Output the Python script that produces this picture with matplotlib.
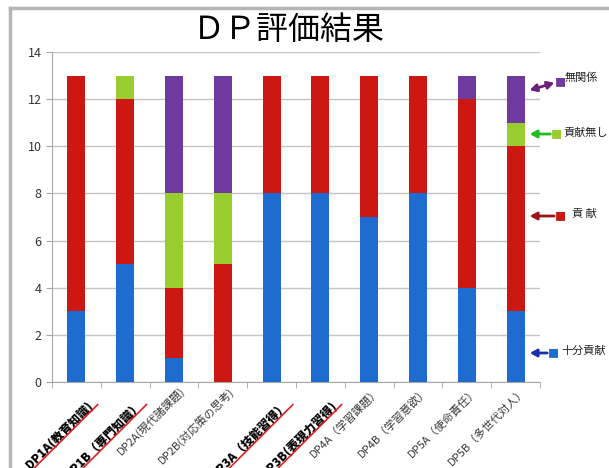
import matplotlib
matplotlib.use("Agg")
import matplotlib.pyplot as plt
import matplotlib.transforms as mtransforms
from matplotlib.lines import Line2D
from matplotlib.patches import FancyArrowPatch
import numpy as np

plt.rcParams['font.family'] = ['Noto Sans CJK JP', 'DejaVu Sans']

# データ（人数）
categories = ["DP1A(教育知識)", "DP1B（専門知識）", "DP2A(現代諸課題)", "DP2B(対応策の思考)",
              "DP3A（技能習得）", "DP3B(表現力習得)", "DP4A（学習課題）", "DP4B（学習意欲）",
              "DP5A（使命責任）", "DP5B（多世代対人）"]
highlight = [True, True, False, False, True, True, False, False, False, False]
jubun = [3, 5, 1, 0, 8, 8, 7, 8, 4, 3]       # 十分貢献
kouken = [10, 7, 3, 5, 5, 5, 6, 5, 8, 7]     # 貢献
nashi = [0, 1, 4, 3, 0, 0, 0, 0, 0, 1]       # 貢献無し
mukankei = [0, 0, 5, 5, 0, 0, 0, 0, 1, 2]    # 無関係
colors = ["#1e6cd0", "#cc1812", "#99cc2e", "#6e3aa0"]

W, H = 609, 468
fig = plt.figure(figsize=(W / 100, H / 100), dpi=100)
ax = fig.add_axes([52 / W, 1 - 382 / H, (540 - 52) / W, (382 - 52) / H])

x = np.arange(len(categories))
bottom = np.zeros(len(categories))
for vals, c in zip([jubun, kouken, nashi, mukankei], colors):
    ax.bar(x, vals, width=0.37, bottom=bottom, color=c, zorder=3)
    bottom += np.array(vals)

ax.set_xlim(-0.5, len(categories) - 0.5)
ax.set_ylim(0, 14)
ax.set_yticks(range(0, 15, 2))
ax.yaxis.grid(True, color="#c4c4c4", linewidth=1, zorder=0)
for s in ["top", "right"]:
    ax.spines[s].set_visible(False)
for s in ["left", "bottom"]:
    ax.spines[s].set_color("#a8a8a8")
ax.tick_params(axis="y", colors="#a8a8a8", labelcolor="#333333", labelsize=9, length=4)
ax.set_xticks(x)
ax.set_xticklabels([])
ax.tick_params(axis="x", length=0)
ax.set_xticks(np.arange(-0.5, len(categories), 1), minor=True)
ax.tick_params(axis="x", which="minor", length=4, color="#a8a8a8")

# 横軸ラベル（強調は太字＋赤下線）
xtrans = mtransforms.blended_transform_factory(ax.transData, ax.transAxes)
labels = []
for i, (name, hl) in enumerate(zip(categories, highlight)):
    if hl:
        tr = xtrans + mtransforms.ScaledTranslation(17 / 100, -24 / 100, fig.dpi_scale_trans)
        t = ax.text(i, 0, name, transform=tr, rotation=45, rotation_mode="anchor",
                    ha="right", va="baseline", fontsize=8.6, fontweight="heavy", color="black")
    else:
        tr = xtrans + mtransforms.ScaledTranslation(5 / 100, -3 / 100, fig.dpi_scale_trans)
        t = ax.text(i, 0, name, transform=tr, rotation=45, rotation_mode="anchor",
                    ha="right", va="top", fontsize=8, color="#383838")
    labels.append((t, hl))

fig.text(289 / W, 1 - 30 / H, "ＤＰ評価結果", fontsize=23, ha="center", va="center")

# 凡例代わりの矢印
def fp(px, py):
    return (px / W, 1 - py / H)

legend_items = [
    ("無関係", colors[3], "#6a1f7a", (527, 91), (557, 82), 565, 78, "<|-|>"),
    ("貢献無し", colors[2], "#22bb22", (527, 134), (553, 134), 563, 133, "-|>"),
    ("貢 献", colors[1], "#991414", (527, 216), (557, 216), 572, 214, "-|>"),
    ("十分貢献", colors[0], "#1a2fa8", (527, 353), (550, 353), 561, 351, "-|>"),
]
for name, sq, ac, p_end, p_start, tx, ty, style in legend_items:
    fig.add_artist(FancyArrowPatch(
        fp(*p_start), fp(*p_end), transform=fig.transFigure,
        arrowstyle=style + ",head_width=2.2,head_length=4", color=ac, lw=2))
    fig.text(*fp(p_start[0] + 3, p_start[1] + 1), "■", color=sq, fontsize=8,
             ha="center", va="center")
    fig.text(*fp(tx, ty), name, fontsize=8, ha="left", va="center", color="#222222")

# 左と上の枠線
fig.add_artist(Line2D([10 / W, 10 / W], [0, 1 - 8 / H], color="#b4b4b4", lw=2.5,
                      transform=fig.transFigure))
fig.add_artist(Line2D([10 / W, 1], [1 - 8 / H, 1 - 8 / H], color="#b4b4b4", lw=2.5,
                      transform=fig.transFigure))

# 赤下線（ベースラインに沿って）
fig.canvas.draw()
r = fig.canvas.get_renderer()
d = np.array([np.cos(np.pi / 4), np.sin(np.pi / 4)])
nrm = np.array([d[1], -d[0]])
for t, hl in labels:
    if not hl:
        continue
    bb = t.get_window_extent(r)
    end = t.get_transform().transform(t.get_position()) + nrm * 2 + d * 4
    length = bb.width / np.cos(np.pi / 4) + 4
    start = end - d * length
    fig.add_artist(Line2D([start[0] / W, end[0] / W], [start[1] / H, end[1] / H],
                          color="#e02020", lw=1.2, transform=fig.transFigure))

fig.savefig("out.png", dpi=100)
